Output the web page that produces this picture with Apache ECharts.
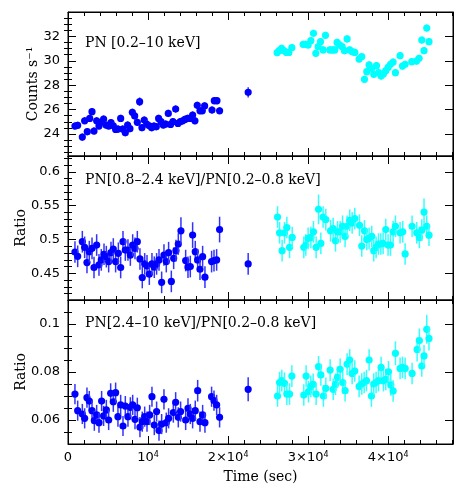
<!DOCTYPE html>
<html><head><meta charset="utf-8">
<script src="https://cdn.jsdelivr.net/npm/echarts@6/dist/echarts.min.js"></script>
<style>html,body{margin:0;padding:0;background:#fff}#c{width:463px;height:495px}</style>
</head><body><div id="c"></div>
<script>
// ---------- tick labels ----------
const timeTicks = [0, 10000, 20000, 30000, 40000];
const rateTicks = [24, 26, 28, 30, 32];
const rateMinor = [22.5,23,23.5,24.5,25,25.5,26.5,27,27.5,28.5,29,29.5,30.5,31,31.5,32.5,33,33.5];
const softTicks = [0.45, 0.5, 0.55, 0.6];
const softMinor = [0.42,0.43,0.44,0.46,0.47,0.48,0.49,0.51,0.52,0.53,0.54,0.56,0.57,0.58,0.59,0.61,0.62];
const hardTicks = [0.06, 0.08, 0.1];
const hardMinor = [0.055,0.065,0.07,0.075,0.085,0.09,0.095,0.105];
const panelTitles = ['PN [0.2\u201310 keV]', 'PN[0.8\u20132.4 keV]/PN[0.2\u20130.8 keV]', 'PN[2.4\u201310 keV]/PN[0.2\u20130.8 keV]'];

// ---------- top panel: count rate ----------
const rateBlueT = [870,1210,1790,2080,2410,2710,3000,3250,3580,3870,4160,4450,4750,5080,5370,5660,5950,6240,6580,6830,7160,7450,7740,8040,8330,8660,8950,9240,9530,9830,10160,10450,10740,11030,11320,11620,11910,12200,12530,12820,13110,13450,13740,14030,14320,14610,14950,15240,15570,15860,16150,16490,16780,17070,17990,18280,18610,18940,22510];
const rateBlue = [24.66,24.71,23.75,25.09,24.19,25.28,25.83,24.25,25.09,24.66,24.96,25.23,24.74,24.66,24.93,24.68,24.38,24.41,25.28,24.41,24.11,24.74,24.44,25.78,25.48,24.96,26.65,24.52,25.15,24.82,24.68,24.52,24.66,24.6,25.28,25.01,24.74,24.82,25.69,24.79,25.01,26.05,24.87,25.01,25.09,25.2,25.28,25.28,25.56,25.09,26.35,25.91,25.91,26.3,25.97,26.73,26.73,25.91,27.42];
const rateBlueErr = [0.3,0.3,0.3,0.3,0.3,0.3,0.3,0.3,0.3,0.3,0.3,0.3,0.3,0.3,0.3,0.3,0.3,0.3,0.3,0.3,0.3,0.3,0.3,0.3,0.3,0.3,0.35,0.3,0.3,0.3,0.3,0.3,0.3,0.3,0.3,0.3,0.3,0.3,0.3,0.3,0.3,0.3,0.3,0.3,0.3,0.3,0.3,0.3,0.3,0.3,0.3,0.3,0.3,0.3,0.3,0.3,0.3,0.3,0.42];
const rateCyanT = [26130,26380,26680,26970,27300,27590,27970,29380,29670,30000,30340,30670,30960,31250,31550,31870,32170,32710,33040,33330,33620,33920,34250,34540,34870,35200,35500,35830,36370,36700,37040,37330,37620,37950,38200,38540,38830,39120,39410,39700,39990,40290,40620,40910,41490,41790,42120,42950,43540,43860,44200,44480,44820,45100];
const rateCyan = [30.67,30.83,31.02,30.83,30.69,30.69,31.08,31.35,31.35,31.3,31.65,32.25,30.61,31.16,31.57,30.89,32.09,30.89,30.89,30.89,31.51,31.3,31.16,30.83,31.79,30.89,30.75,30.69,30.15,30.34,28.48,29.11,29.66,29.38,28.89,29.6,29.03,28.75,28.92,29.19,29.46,29.71,29.9,29.03,30.42,29.57,29.71,29.93,29.98,30.2,31.7,30.83,32.69,31.57];
const rateCyanErr = [0.3,0.3,0.3,0.3,0.3,0.3,0.3,0.3,0.3,0.3,0.3,0.3,0.3,0.3,0.3,0.3,0.3,0.3,0.3,0.3,0.3,0.3,0.3,0.3,0.3,0.3,0.3,0.3,0.3,0.3,0.3,0.3,0.3,0.3,0.3,0.3,0.3,0.3,0.3,0.3,0.3,0.3,0.3,0.3,0.3,0.3,0.3,0.3,0.3,0.3,0.3,0.3,0.3,0.3];

// ---------- middle panel: soft ratio ----------
const softBlueT = [870,1210,1790,2080,2370,2660,3000,3250,3580,3870,4160,4500,4790,5080,5370,5660,5950,6290,6580,6870,7160,7490,7790,8080,8370,8660,8990,9280,9580,9870,10160,10490,10780,11070,11370,11700,11990,12280,12570,12910,13200,13490,13780,14110,14700,14990,15280,15570,15900,16200,16490,16820,17110,17940,18240,18570,18940,22510];
const softBlue = [0.4815,0.4751,0.4967,0.4884,0.4659,0.482,0.4869,0.4586,0.4918,0.4625,0.4698,0.4781,0.4746,0.4673,0.4805,0.4859,0.4673,0.4796,0.4586,0.4967,0.4844,0.4844,0.477,0.4918,0.4869,0.4967,0.4712,0.4438,0.4639,0.461,0.4488,0.4639,0.459,0.4639,0.4698,0.4366,0.477,0.4673,0.4805,0.438,0.4722,0.4835,0.4933,0.5128,0.4688,0.459,0.46,0.5065,0.482,0.4698,0.456,0.4746,0.4443,0.4673,0.4688,0.4698,0.5147,0.4639];
const softBlueErr = [0.016,0.016,0.016,0.016,0.016,0.016,0.016,0.016,0.016,0.016,0.016,0.016,0.016,0.016,0.016,0.016,0.016,0.016,0.016,0.016,0.016,0.016,0.016,0.016,0.016,0.016,0.016,0.016,0.016,0.016,0.016,0.016,0.016,0.016,0.016,0.016,0.016,0.016,0.016,0.016,0.016,0.016,0.016,0.02,0.016,0.016,0.016,0.019,0.016,0.016,0.016,0.016,0.016,0.016,0.016,0.016,0.019,0.016];
const softCyanT = [26180,26430,26750,27050,27340,27680,28010,29460,29710,30000,30340,30670,31000,31300,31590,31870,32210,32800,33130,33420,33670,34000,34300,34620,34870,35200,35500,35830,36420,36700,37040,37330,37620,37950,38200,38490,38790,39080,39370,39700,39990,40290,40620,40910,41490,41820,42120,42990,43570,43900,44200,44480,44820,45100];
const softCyan = [0.5333,0.5099,0.4835,0.5099,0.5177,0.4884,0.503,0.4884,0.4918,0.5016,0.503,0.5113,0.4884,0.5446,0.4942,0.5333,0.5294,0.5128,0.5162,0.4981,0.5113,0.5113,0.5196,0.5045,0.5196,0.5284,0.5245,0.5309,0.5211,0.4903,0.5128,0.5001,0.5016,0.5045,0.4835,0.4884,0.4933,0.4933,0.4942,0.5147,0.4918,0.4918,0.5113,0.5196,0.5099,0.5113,0.4786,0.5196,0.5099,0.503,0.5138,0.5406,0.5196,0.5064];
const softCyanErr = [0.016,0.016,0.016,0.016,0.016,0.016,0.016,0.016,0.016,0.016,0.016,0.016,0.016,0.022,0.016,0.016,0.016,0.016,0.016,0.016,0.016,0.016,0.016,0.016,0.016,0.016,0.016,0.016,0.016,0.016,0.016,0.016,0.016,0.016,0.016,0.016,0.016,0.016,0.016,0.016,0.016,0.016,0.016,0.016,0.016,0.016,0.016,0.016,0.016,0.016,0.016,0.02,0.016,0.016];

// ---------- bottom panel: hard ratio ----------
const hardBlueT = [870,1210,1790,2080,2370,2660,3000,3290,3580,3870,4200,4450,4790,5080,5330,5660,5950,6240,6580,6870,7160,7490,7790,8080,8370,8660,8990,9280,9580,9870,10200,10490,10780,11070,11370,11700,11990,12280,12570,13160,13450,13780,14070,14700,14990,15280,15570,15900,16200,16490,16820,17110,17940,18240,18570,18940,22510];
const hardBlue = [0.0708,0.0639,0.0625,0.0607,0.0693,0.0679,0.0639,0.0597,0.0621,0.0589,0.0679,0.0617,0.0642,0.06,0.0711,0.0676,0.0714,0.0614,0.0663,0.0575,0.0658,0.0614,0.0653,0.0663,0.0603,0.0651,0.057,0.0593,0.0614,0.0593,0.0621,0.0697,0.0579,0.0635,0.0556,0.0583,0.0686,0.0589,0.0607,0.0631,0.0674,0.0611,0.0635,0.06,0.0649,0.0625,0.0607,0.0639,0.0722,0.0593,0.0621,0.0589,0.0697,0.0681,0.0663,0.0611,0.0728];
const hardBlueErr = [0.0042,0.0042,0.0042,0.0042,0.0042,0.0042,0.0042,0.0042,0.0042,0.0042,0.0042,0.0042,0.0042,0.0042,0.0042,0.0042,0.0042,0.0042,0.0042,0.0042,0.0042,0.0042,0.0042,0.0042,0.0042,0.0042,0.0042,0.0042,0.0042,0.0042,0.0042,0.0042,0.0042,0.0042,0.0042,0.0042,0.0042,0.0042,0.0042,0.0042,0.0042,0.0042,0.0042,0.0042,0.0042,0.0042,0.0042,0.0042,0.0045,0.0042,0.0042,0.0042,0.0042,0.0042,0.0042,0.0042,0.005];
const hardCyanT = [26180,26430,26710,27050,27340,27680,27970,29460,29750,30040,30330,30630,31000,31300,31590,31910,32210,32750,33130,33420,33670,34000,34330,34620,34870,35200,35500,35830,36370,36700,37000,37290,37620,37910,38200,38490,38790,39120,39410,39700,40040,40330,40620,40910,41490,41790,42120,42990,43620,43900,44200,44480,44820,45100];
const hardCyan = [0.07,0.0756,0.0764,0.0753,0.0708,0.0708,0.0783,0.0704,0.0783,0.0718,0.074,0.0749,0.0708,0.0822,0.0788,0.07,0.0732,0.0808,0.0728,0.0749,0.0778,0.0811,0.0756,0.0722,0.0833,0.085,0.0794,0.0804,0.074,0.075,0.0756,0.0764,0.085,0.07,0.075,0.0756,0.0764,0.0819,0.0764,0.0769,0.0801,0.0746,0.0721,0.0878,0.0815,0.0819,0.0815,0.0794,0.0894,0.0931,0.0825,0.0867,0.0978,0.094];
const hardCyanErr = [0.0045,0.0045,0.0045,0.0045,0.0045,0.0045,0.0045,0.0045,0.0045,0.0045,0.0045,0.0045,0.0045,0.0045,0.0045,0.0045,0.0045,0.0045,0.0045,0.0045,0.0045,0.0045,0.0045,0.0045,0.0045,0.0045,0.0045,0.0045,0.0045,0.0045,0.0045,0.0045,0.0045,0.0045,0.0045,0.0045,0.0045,0.0045,0.0045,0.0045,0.0045,0.0045,0.0045,0.005,0.0045,0.0045,0.0045,0.0045,0.005,0.005,0.0045,0.0045,0.006,0.005];

// ---------- styling / layout ----------
const BLUE = '#0000ff', CYAN = '#00ffff', INK = '#000';
const BLUE_ERR = '#3333ff', CYAN_ERR = '#33ffff';
const SANS = 'DejaVu Sans', SERIF = 'DejaVu Serif';
const GL = 68, GW = 385, GH = 144, GT = [12, 156, 300];
const X_MAX = 48100;
const panels = [
  {min: 22.2, max: 34, ticks: rateTicks, minor: rateMinor, name: 'Counts s\u207B\u00B9', gap: 28},
  {min: 0.4105, max: 0.6235, ticks: softTicks, minor: softMinor, name: 'Ratio', gap: 40},
  {min: 0.05, max: 0.11, ticks: hardTicks, minor: hardMinor, name: 'Ratio', gap: 40}
];

const grids = GT.map(t => ({left: GL, top: t, width: GW, height: GH, show: true, borderColor: INK, borderWidth: 1, backgroundColor: 'transparent'}));

function fmtTime(v) {
  if (v === 0) return '0';
  if (v === 10000) return '10{s|4}';
  if (v % 10000 === 0) return (v / 10000) + '\u00D710{s|4}';
  return '';
}

const xAxes = [];
[0,1,2].forEach(g => {
  ['bottom','top'].forEach(pos => {
    const showLabel = g === 2 && pos === 'bottom';
    xAxes.push({
      type: 'value', gridIndex: g, position: pos, min: 0, max: X_MAX, interval: 10000,
      axisLine: {show: true, onZero: false, lineStyle: {color: INK, width: 1}},
      axisTick: {show: true, inside: true, length: 8, lineStyle: {color: INK, width: 1}},
      minorTick: {show: true, splitNumber: 5, length: 4, lineStyle: {color: INK, width: 1}},
      splitLine: {show: false}, minorSplitLine: {show: false},
      axisLabel: {show: showLabel, margin: 7, formatter: fmtTime, color: INK, fontFamily: SANS, fontSize: 13,
        showMaxLabel: false,
        rich: {s: {fontSize: 8, verticalAlign: 'top', padding: [0,0,6,0], fontFamily: SANS, color: INK}}},
      name: showLabel ? 'Time (sec)' : '', nameLocation: 'middle', nameGap: 26, nameMoveOverlap: false,
      nameTextStyle: {fontFamily: SERIF, fontSize: 14, color: INK}
    });
  });
});

const yAxes = [];
panels.forEach((p, g) => {
  ['left','right'].forEach(pos => {
    yAxes.push({
      type: 'value', gridIndex: g, position: pos, min: p.min, max: p.max,
      axisLine: {show: true, onZero: false, lineStyle: {color: INK, width: 1}},
      axisTick: {show: true, inside: true, length: 8, customValues: p.ticks, lineStyle: {color: INK, width: 1}},
      splitLine: {show: false},
      axisLabel: pos === 'left' ? {show: true, customValues: p.ticks, margin: 8, color: INK, fontFamily: SANS, fontSize: 13} : {show: false},
      name: pos === 'left' ? p.name : '', nameLocation: 'middle', nameGap: p.gap, nameRotate: 90, nameMoveOverlap: false,
      nameTextStyle: {fontFamily: SERIF, fontSize: 14, color: INK}
    });
    yAxes.push({
      type: 'value', gridIndex: g, position: pos, min: p.min, max: p.max,
      axisLine: {show: false},
      axisTick: {show: true, inside: true, length: 4, customValues: p.minor, lineStyle: {color: INK, width: 1}},
      splitLine: {show: false}, axisLabel: {show: false}
    });
  });
});

function errSeries(g, ts, vs, es, color, errColor) {
  const data = ts.map((t, i) => [t, vs[i], es[i]]);
  return {
    type: 'custom', xAxisIndex: g * 2, yAxisIndex: g * 4, data, encode: {x: 0, y: 1}, clip: true,
    renderItem(params, api) {
      const t = api.value(0), v = api.value(1), e = api.value(2);
      const c = api.coord([t, v]), lo = api.coord([t, v - e]), hi = api.coord([t, v + e]);
      return {type: 'group', children: [
        {type: 'line', shape: {x1: c[0], y1: lo[1], x2: c[0], y2: hi[1]}, style: {stroke: errColor, lineWidth: 1.5}},
        {type: 'circle', shape: {cx: c[0], cy: c[1], r: 3.6}, style: {fill: color}}
      ]};
    }
  };
}

const series = [
  errSeries(0, rateBlueT, rateBlue, rateBlueErr, BLUE, BLUE_ERR),
  errSeries(0, rateCyanT, rateCyan, rateCyanErr, CYAN, CYAN_ERR),
  errSeries(1, softBlueT, softBlue, softBlueErr, BLUE, BLUE_ERR),
  errSeries(1, softCyanT, softCyan, softCyanErr, CYAN, CYAN_ERR),
  errSeries(2, hardBlueT, hardBlue, hardBlueErr, BLUE, BLUE_ERR),
  errSeries(2, hardCyanT, hardCyan, hardCyanErr, CYAN, CYAN_ERR)
];

const titleY = [44, 181, 324];
const graphic = panelTitles.map((txt, i) => ({
  type: 'text', left: 85, top: titleY[i] - 8,
  style: {text: txt, fill: INK, font: '14px "DejaVu Serif"'}
}));

const chart = echarts.init(document.getElementById('c'), null, {renderer: 'canvas'});
chart.setOption({
  animation: false, backgroundColor: '#fff',
  grid: grids, xAxis: xAxes, yAxis: yAxes, series, graphic
});
</script></body></html>
